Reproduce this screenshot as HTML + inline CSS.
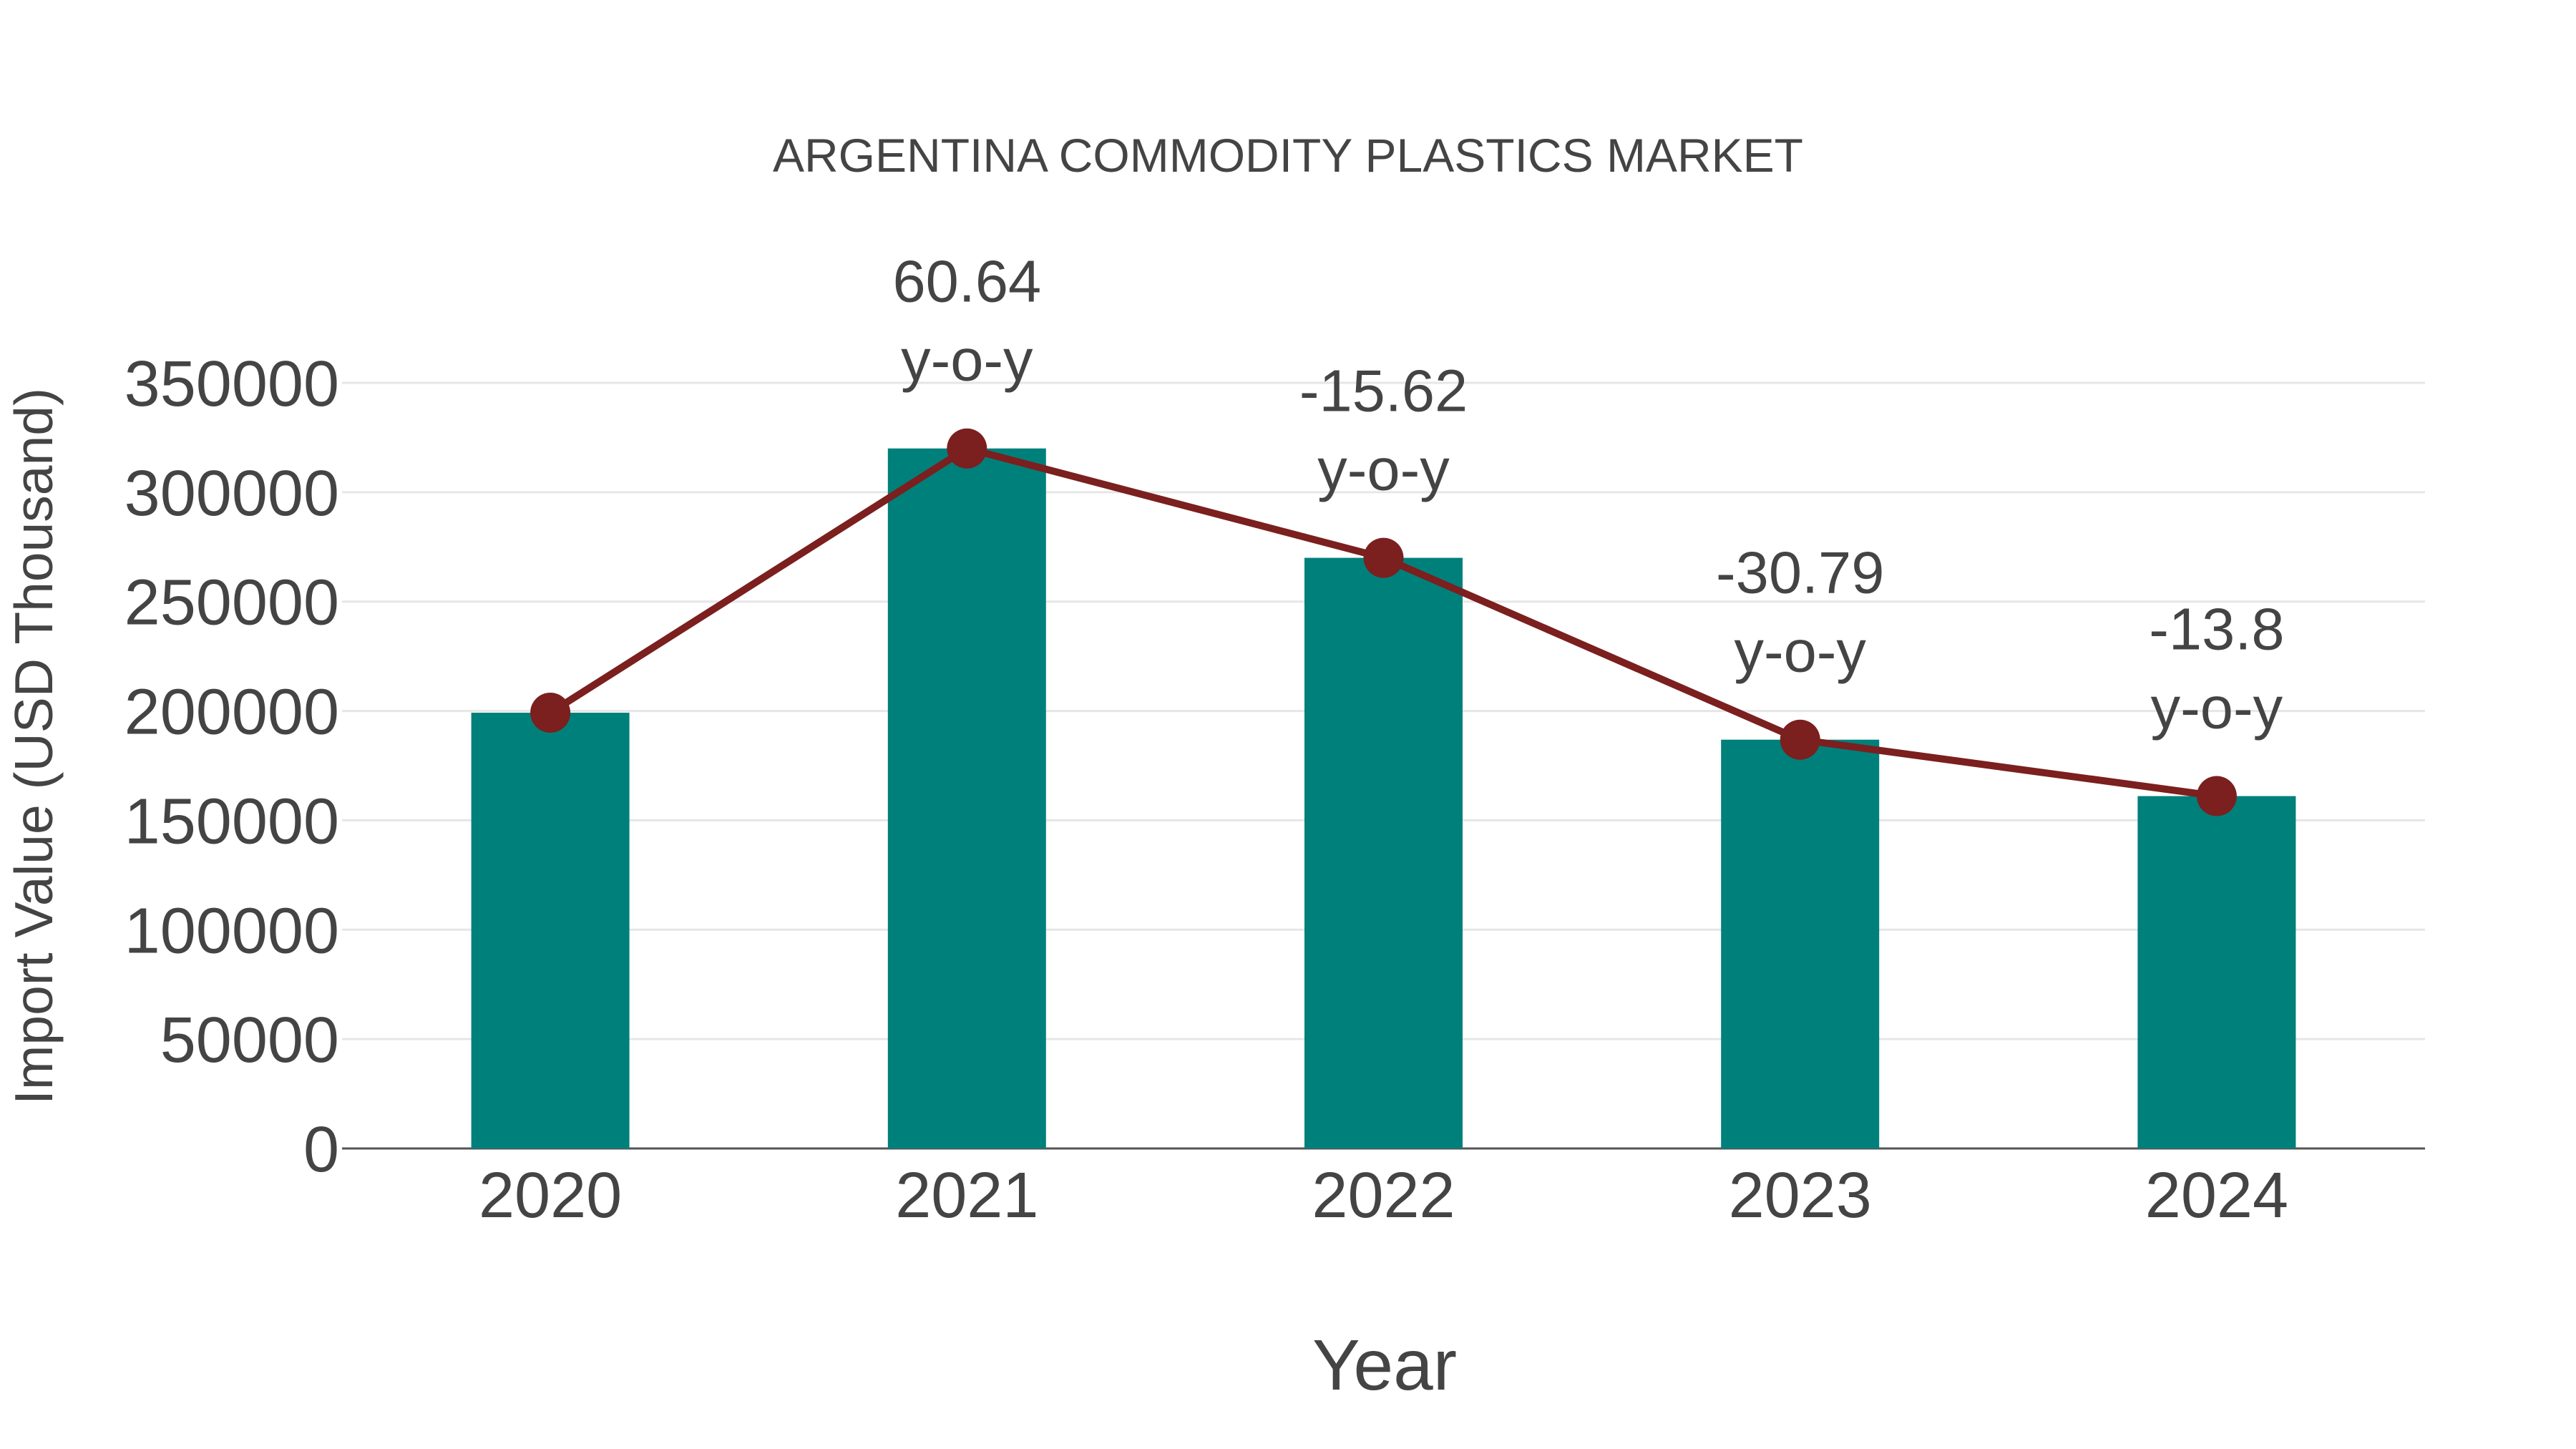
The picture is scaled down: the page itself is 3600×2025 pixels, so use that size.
<!DOCTYPE html>
<html><head><meta charset="utf-8"><style>
html,body{margin:0;padding:0;background:#fff;}
svg{display:block;font-family:"Liberation Sans",sans-serif;}
</style></head><body>
<svg id="chart" width="3600" height="2025" viewBox="0 0 3600 2025">
<text x="1800" y="240" text-anchor="middle" font-size="66" fill="#444">ARGENTINA COMMODITY PLASTICS MARKET</text>
<g id="grid"></g>
<g id="bars"></g>
<g id="line"></g>
<g id="labels"></g>
<text transform="translate(73,1043) rotate(-90)" text-anchor="middle" font-size="75" fill="#444">Import Value (USD Thousand)</text>
<text x="1935" y="1942" text-anchor="middle" font-size="100" fill="#444">Year</text>
</svg>
<script>
const categories = ["2020","2021","2022","2023","2024"];
const values = [199200, 320000, 270000, 186870, 161080];
const yoyLabels = ["", "60.64", "-15.62", "-30.79", "-13.8"];
const yTicks = [0,50000,100000,150000,200000,250000,300000,350000];

const NS="http://www.w3.org/2000/svg";
const L=478,R=3389,Y0=1605,Ytop=535,YMAX=350000;
const band=(R-L)/categories.length;
const x=i=>L+band*(i+0.5);
const y=v=>Y0-(v/YMAX)*(Y0-Ytop);
function mk(tag,attrs,parent){const e=document.createElementNS(NS,tag);for(const k in attrs)e.setAttribute(k,attrs[k]);parent.appendChild(e);return e;}
const grid=document.getElementById('grid'),bars=document.getElementById('bars'),line=document.getElementById('line'),labels=document.getElementById('labels');
yTicks.forEach(t=>{
  if(t>0){const g=mk('line',{x1:L,x2:R,y1:y(t),y2:y(t),stroke:'#e6e6e6','stroke-width':3},grid);
  
  }
  const tx=mk('text',{x:474,y:y(t)+32,'text-anchor':'end','font-size':90,fill:'#444'},grid);
  tx.textContent=t;
  
  
});
const ax=mk('line',{x1:L,x2:R,y1:Y0,y2:Y0,stroke:'#555','stroke-width':3},grid);


const bw=221;
categories.forEach((c,i)=>{
  const b=mk('rect',{x:x(i)-bw/2,y:y(values[i]),width:bw,height:Y0-y(values[i]),fill:'#00807b'},bars);
  
  
  const t=mk('text',{x:x(i),y:1701,'text-anchor':'middle','font-size':90,fill:'#444'},labels);
  t.textContent=c;
  
  
});
const pl=mk('polyline',{points:values.map((v,i)=>x(i)+','+y(v)).join(' '),fill:'none',stroke:'#7b1f1f','stroke-width':10},line);


values.forEach((v,i)=>{
  const c=mk('circle',{cx:x(i),cy:y(v),r:28,fill:'#7b1f1f'},line);
  
  
  if(yoyLabels[i]){
    const a=mk('text',{x:x(i),y:y(v)-205,'text-anchor':'middle','font-size':83,fill:'#444'},labels);
    a.textContent=yoyLabels[i];
    
    
    const b=mk('text',{x:x(i),y:y(v)-95,'text-anchor':'middle','font-size':83,fill:'#444'},labels);
    b.textContent='y-o-y';
    
    
  }
});
</script>
</body></html>
